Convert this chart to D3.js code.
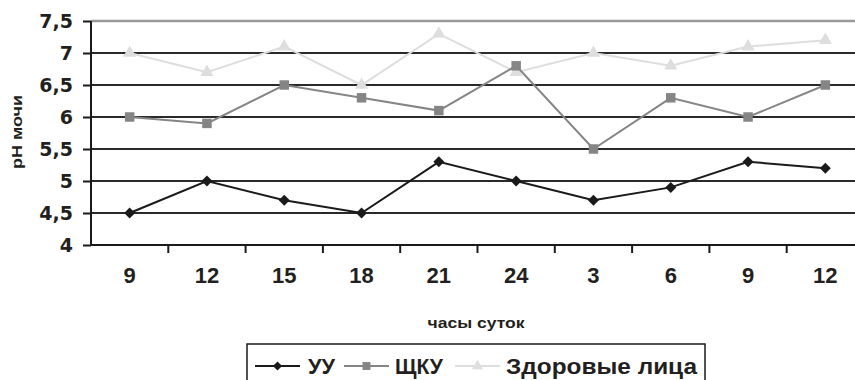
<!DOCTYPE html>
<html><head><meta charset="utf-8">
<script src="https://cdn.jsdelivr.net/npm/d3@7"></script>
<style>body{margin:0;background:#fff}svg{display:block}</style>
</head><body>
<svg id="c" width="855" height="380"></svg>
<script>
const hours = ["9","12","15","18","21","24","3","6","9","12"];
const seriesUU = [4.5,5.0,4.7,4.5,5.3,5.0,4.7,4.9,5.3,5.2];
const seriesSCHKU = [6.0,5.9,6.5,6.3,6.1,6.8,5.5,6.3,6.0,6.5];
const seriesHealthy = [7.0,6.7,7.1,6.5,7.3,6.7,7.0,6.8,7.1,7.2];
const yTicks = [4,4.5,5,5.5,6,6.5,7,7.5];
const seriesNames = ["УУ","ЩКУ","Здоровые лица"];

const svg = d3.select("#c");
const L = 91, R = 864, T = 21, B = 245;
const x = d3.scaleBand().domain(d3.range(hours.length)).range([L,R]);
const y = d3.scaleLinear().domain([4,7.5]).range([B,T]);
const fmt = v => String(v).replace(".", ",");

svg.append("g").selectAll("line").data(yTicks.filter(v=>v>4 && v<7.5)).join("line")
  .attr("x1",L).attr("x2",R).attr("y1",d=>y(d)).attr("y2",d=>y(d))
  .attr("stroke","#2a2a2a").attr("stroke-width",2);
svg.append("line").attr("x1",L).attr("x2",R).attr("y1",y(7.5)).attr("y2",y(7.5))
  .attr("stroke","#999").attr("stroke-width",2.5);

const yAxis = svg.append("g").attr("transform",`translate(${L},0)`)
  .call(d3.axisLeft(y).tickValues(yTicks).tickSize(8).tickPadding(10).tickFormat(fmt));
yAxis.select(".domain").attr("stroke","#1a1a1a").attr("stroke-width",2).attr("d",`M0,${T}V${B}`);
yAxis.selectAll(".tick line").attr("stroke","#1a1a1a").attr("stroke-width",2);
yAxis.selectAll("text").attr("font-family","DejaVu Sans").attr("font-weight","bold")
  .attr("font-size",19).attr("fill","#231f20");

const xAxis = svg.append("g").attr("transform",`translate(0,${B})`)
  .call(d3.axisBottom(x).tickSize(0).tickPadding(30).tickFormat(i=>hours[i]));
xAxis.select(".domain").attr("stroke","#1a1a1a").attr("stroke-width",2).attr("d",`M${L},0H${R}`);
xAxis.selectAll("text").attr("font-family","Liberation Sans, Arial").attr("font-weight","bold")
  .attr("font-size",22).attr("fill","#231f20").attr("dy","0.35em").attr("y",30);
svg.append("g").selectAll("line").data(d3.range(1,hours.length)).join("line")
  .attr("x1",i=>x(i)).attr("x2",i=>x(i)).attr("y1",B).attr("y2",B+8)
  .attr("stroke","#1a1a1a").attr("stroke-width",2);

const cx = i => x(i) + x.bandwidth()/2;
const series = [
  {name:seriesNames[0], vals:seriesUU, color:"#1a1a1a", sym:d3.symbolSquare, size:60, rot:45},
  {name:seriesNames[1], vals:seriesSCHKU, color:"#858585", sym:d3.symbolSquare, size:90, rot:0},
  {name:seriesNames[2], vals:seriesHealthy, color:"#dedede", sym:d3.symbolTriangle, size:75, rot:0}
];
const line = d3.line().x((d,i)=>cx(i)).y(d=>y(d));
series.slice().reverse().forEach(s=>{
  const g = svg.append("g");
  g.append("path").attr("d",line(s.vals)).attr("fill","none").attr("stroke",s.color).attr("stroke-width",2);
  g.selectAll("path.m").data(s.vals).join("path").attr("class","m")
    .attr("d",d3.symbol().type(s.sym).size(s.size))
    .attr("transform",(d,i)=>`translate(${cx(i)},${y(d)}) rotate(${s.rot})`).attr("fill",s.color);
});

svg.append("text").attr("transform","translate(22,132) rotate(-90)").attr("text-anchor","middle")
  .attr("font-family","Liberation Sans, Arial").attr("font-weight","bold").attr("font-size",15)
  .attr("textLength",74).attr("lengthAdjust","spacingAndGlyphs")
  .attr("fill","#231f20").text("pH мочи");
svg.append("text").attr("x",476).attr("y",328).attr("text-anchor","middle")
  .attr("font-family","Liberation Sans, Arial").attr("font-weight","bold").attr("font-size",15)
  .attr("textLength",97).attr("lengthAdjust","spacingAndGlyphs")
  .attr("fill","#231f20").text("часы суток");

const lg = svg.append("g");
lg.append("rect").attr("x",247).attr("y",344).attr("width",458).attr("height",50)
  .attr("fill","none").attr("stroke","#1a1a1a").attr("stroke-width",1.5);
const items = [{x:255,tx:308,w:27},{x:344,tx:395,w:48},{x:455,tx:506,w:191}];
series.forEach((s,k)=>{
  const it = items[k];
  lg.append("line").attr("x1",it.x).attr("x2",it.x+45).attr("y1",366).attr("y2",366)
    .attr("stroke",s.color).attr("stroke-width",2);
  lg.append("path").attr("d",d3.symbol().type(s.sym).size(s.size*0.7)())
    .attr("transform",`translate(${it.x+22.5},366) rotate(${s.rot})`).attr("fill",s.color);
  lg.append("text").attr("x",it.tx).attr("y",374).attr("font-family","Liberation Sans, Arial")
    .attr("font-weight","bold").attr("font-size",22).attr("fill","#231f20")
    .attr("textLength",it.w).attr("lengthAdjust","spacingAndGlyphs").text(s.name);
});
</script>
</body></html>
